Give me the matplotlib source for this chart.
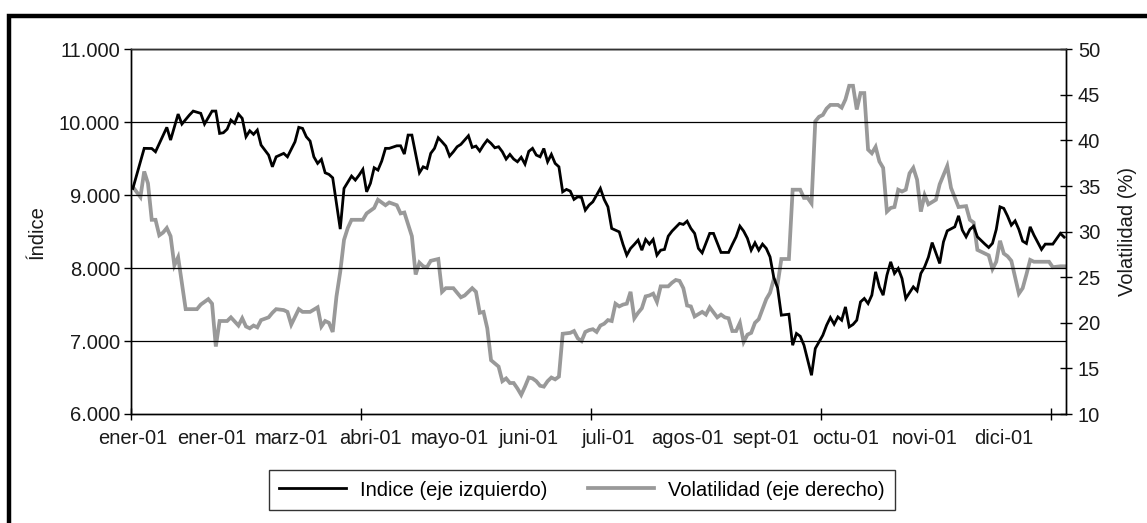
import matplotlib
matplotlib.use("Agg")
import matplotlib.pyplot as plt
from matplotlib.lines import Line2D
from matplotlib.patches import Rectangle

# ---- data (trading-day index) ----
n_dias = 248
indice_dias = [0, 3, 5, 6, 9, 10, 12, 13, 15, 16, 18, 19, 21, 22, 23, 24, 25, 26, 27, 28,
               29, 30, 31, 32, 33, 34, 36, 37, 38, 40, 41, 43, 44, 45, 46, 47, 48, 49, 50, 51,
               52, 53, 54, 55, 56, 58, 59, 60, 61, 62, 63, 64, 65, 66, 67, 68, 70, 71, 72, 73,
               74, 76, 77, 78, 79, 80, 81, 82, 83, 84, 85, 86, 87, 89, 90, 91, 92, 93, 94, 95,
               96, 97, 98, 99, 100, 101, 102, 103, 104, 105, 106, 107, 108, 109, 110, 111, 112,
               113, 114, 115, 116, 117, 118, 119, 120, 121, 122, 124, 125, 126, 127, 129, 130,
               131, 132, 133, 134, 135, 136, 137, 138, 139, 140, 141, 142, 143, 145, 146, 147,
               148, 149, 150, 151, 153, 154, 156, 158, 159, 160, 161, 162, 163, 164, 165, 166,
               167, 168, 169, 170, 171, 172, 174, 175, 176, 177, 178, 179, 180, 181, 182, 183,
               184, 185, 186, 187, 188, 189, 190, 191, 192, 193, 194, 195, 196, 197, 198, 199,
               200, 201, 202, 203, 204, 205, 207, 208, 209, 210, 211, 212, 214, 215, 216, 218,
               219, 220, 221, 222, 223, 224, 226, 227, 228, 229, 230, 231, 232, 233, 234, 235,
               236, 237, 238, 239, 241, 242, 244, 246, 247]
indice_valores = [9093, 9642, 9640, 9595, 9930, 9756, 10112, 9975, 10099, 10153, 10122, 9975,
                  10153, 10153, 9847, 9856, 9905, 10030, 9985, 10112, 10053, 9801, 9883, 9834,
                  9893, 9687, 9550, 9389, 9526, 9573, 9526, 9732, 9930, 9916, 9801, 9742, 9526,
                  9436, 9491, 9307, 9285, 9238, 8887, 8535, 9093, 9262, 9207, 9275, 9354, 9046,
                  9162, 9376, 9344, 9467, 9642, 9642, 9677, 9677, 9564, 9824, 9824, 9307, 9389,
                  9367, 9573, 9642, 9787, 9732, 9673, 9536, 9595, 9664, 9697, 9815, 9655, 9673,
                  9605, 9687, 9756, 9710, 9650, 9664, 9595, 9495, 9559, 9495, 9458, 9520, 9426,
                  9600, 9642, 9550, 9526, 9640, 9458, 9559, 9436, 9389, 9046, 9079, 9056, 8942,
                  8978, 8969, 8795, 8864, 8909, 9093, 8942, 8840, 8544, 8497, 8325, 8178, 8270,
                  8325, 8384, 8246, 8393, 8329, 8393, 8178, 8246, 8256, 8438, 8507, 8613, 8599,
                  8644, 8544, 8476, 8270, 8209, 8476, 8476, 8215, 8215, 8325, 8429, 8576, 8507,
                  8408, 8246, 8347, 8246, 8329, 8270, 8154, 7870, 7730, 7355, 7368, 6943, 7104,
                  7066, 6943, 6737, 6531, 6898, 6988, 7080, 7217, 7323, 7231, 7331, 7286, 7468,
                  7194, 7227, 7286, 7537, 7584, 7515, 7629, 7949, 7743, 7629, 7903, 8086, 7927,
                  7995, 7858, 7584, 7743, 7688, 7927, 8017, 8150, 8350, 8064, 8360, 8511, 8566,
                  8717, 8521, 8429, 8530, 8576, 8429, 8329, 8283, 8340, 8530, 8840, 8819, 8713,
                  8589, 8648, 8530, 8370, 8338, 8566, 8452, 8256, 8329, 8329, 8476, 8425]

vol_dias = [0, 2, 3, 4, 5, 6, 7, 8, 9, 10, 11, 12, 14, 17, 18, 20, 21, 22, 23, 25, 26, 28, 29,
            30, 31, 32, 33, 34, 36, 37, 38, 40, 41, 42, 44, 45, 47, 49, 50, 51, 52, 53, 54, 55,
            56, 57, 58, 61, 62, 64, 65, 67, 68, 70, 71, 72, 74, 75, 76, 77, 78, 79, 81, 82, 83,
            85, 87, 88, 90, 91, 92, 93, 94, 95, 97, 98, 99, 100, 101, 102, 103, 104, 105, 106,
            107, 108, 109, 110, 111, 112, 113, 114, 116, 117, 118, 119, 120, 121, 122, 123, 124,
            125, 126, 127, 128, 129, 130, 131, 132, 133, 134, 135, 136, 137, 138, 139, 140, 142,
            143, 144, 145, 146, 147, 148, 149, 151, 152, 153, 155, 156, 157, 158, 159, 160, 161,
            162, 163, 164, 165, 166, 167, 168, 169, 170, 171, 172, 174, 175, 177, 178, 179, 180,
            181, 182, 183, 184, 185, 187, 188, 189, 190, 191, 192, 193, 194, 195, 196, 197, 198,
            199, 200, 201, 202, 203, 204, 205, 206, 207, 208, 209, 210, 211, 213, 214, 216, 217,
            219, 221, 222, 223, 224, 226, 227, 228, 229, 230, 231, 232, 233, 235, 236, 237, 238,
            239, 243, 244, 246, 247]
vol_valores = [34.9, 33.8, 36.6, 35.3, 31.3, 31.3, 29.6, 29.9, 30.4, 29.5, 26.3, 27.2, 21.5,
               21.5, 22.0, 22.6, 22.1, 17.4, 20.2, 20.2, 20.6, 19.7, 20.5, 19.6, 19.4, 19.7,
               19.5, 20.3, 20.6, 21.1, 21.5, 21.4, 21.2, 19.8, 21.5, 21.2, 21.2, 21.7, 19.6,
               20.2, 20.0, 19.0, 22.9, 25.6, 29.1, 30.4, 31.3, 31.3, 32.0, 32.6, 33.5, 32.9,
               33.2, 32.9, 32.0, 32.1, 29.5, 25.3, 26.6, 26.2, 26.1, 26.8, 27.0, 23.4, 23.8,
               23.8, 22.8, 23.0, 23.8, 23.4, 21.1, 21.2, 19.4, 15.9, 15.2, 13.6, 13.9, 13.4,
               13.4, 12.8, 12.1, 13.0, 14.0, 13.9, 13.6, 13.1, 13.0, 13.6, 14.0, 13.8, 14.1,
               18.8, 18.9, 19.1, 18.3, 18.0, 19.0, 19.2, 19.3, 19.0, 19.7, 19.9, 20.3, 20.2,
               22.1, 21.8, 22.0, 22.1, 23.4, 20.5, 21.1, 21.6, 22.9, 23.0, 23.2, 22.3, 24.0,
               24.0, 24.4, 24.7, 24.6, 23.8, 21.9, 21.8, 20.7, 21.2, 20.9, 21.7, 20.6, 20.9,
               20.6, 20.5, 19.1, 19.1, 20.0, 17.9, 18.7, 18.9, 20.0, 20.4, 21.5, 22.6, 23.3,
               24.8, 24.2, 27.0, 27.0, 34.6, 34.6, 33.7, 33.7, 33.1, 42.1, 42.6, 42.8, 43.5,
               43.9, 43.9, 43.6, 44.5, 46.0, 46.0, 43.4, 45.2, 45.2, 39.0, 38.6, 39.3, 37.7,
               37.0, 32.2, 32.6, 32.7, 34.6, 34.4, 34.6, 36.4, 37.0, 35.7, 32.2, 34.0, 33.0,
               33.5, 35.2, 37.2, 34.8, 32.7, 32.8, 31.3, 31.0, 28.0, 27.6, 27.4, 25.9, 26.7,
               29.0, 27.6, 27.3, 26.8, 23.2, 23.8, 25.3, 26.9, 26.7, 26.7, 26.1, 26.2, 26.2]

etiquetas_x = ['ener-01', 'ener-01', 'marz-01', 'abri-01', 'mayo-01', 'juni-01',
               'juli-01', 'agos-01', 'sept-01', 'octu-01', 'novi-01', 'dici-01']
etiqueta_intervalo = 21
marca_intervalo = 61
ticks_izq = [6000, 7000, 8000, 9000, 10000, 11000]
etiquetas_izq = ['6.000', '7.000', '8.000', '9.000', '10.000', '11.000']
ticks_der = [10, 15, 20, 25, 30, 35, 40, 45, 50]

# ---- figure ----
plt.rcParams['font.family'] = ['Liberation Sans', 'DejaVu Sans']
FS = 14.5
TXT = '#1a1a1a'
fig = plt.figure(figsize=(11.47, 5.23), dpi=100)
fig.patch.set_facecolor('white')

# outer thick frame (only left/top edges fall inside the picture)
fig.patches.append(Rectangle((8.5 / 1147, -0.2), 1.5, 1.2 - 15.5 / 523,
                             transform=fig.transFigure, fill=False,
                             edgecolor='black', linewidth=3.2, zorder=0))

ax = fig.add_axes([131 / 1147, 1 - 414 / 523, (1066 - 131) / 1147, (414 - 49.3) / 523])
ax2 = ax.twinx()

ax.plot(indice_dias, indice_valores, color='black', lw=2.0, zorder=3,
        solid_joinstyle='miter')
ax2.plot(vol_dias, vol_valores, color='#999999', lw=2.7, zorder=2,
         solid_joinstyle='miter')
ax.set_zorder(ax2.get_zorder() + 1)
ax.patch.set_visible(False)

ax.set_xlim(-0.5, n_dias - 0.5)
ax.set_ylim(6000, 11000)
ax2.set_ylim(10, 50)

ax.set_yticks(ticks_izq)
ax.set_yticklabels(etiquetas_izq, fontsize=FS, color=TXT)
ax.tick_params(axis='y', direction='out', length=5, width=1, pad=3)
for v in ticks_izq[1:]:
    ax.axhline(v, color='black', lw=0.9, zorder=1)

ax2.set_yticks(ticks_der)
ax2.set_yticklabels([str(t) for t in ticks_der], fontsize=FS, color=TXT)
ax2.tick_params(axis='y', direction='inout', length=9, width=1, pad=4)

marcas = [-0.5 + marca_intervalo * k for k in range(5)]
pos_etq = [etiqueta_intervalo * k for k in range(len(etiquetas_x))]
ax.set_xticks(marcas)
ax.set_xticklabels([''] * len(marcas))
ax.tick_params(axis='x', which='major', direction='inout', length=9, width=1)
ax.set_xticks(pos_etq, minor=True)
ax.set_xticklabels(etiquetas_x, minor=True, fontsize=FS, color=TXT)
ax.tick_params(axis='x', which='minor', length=0, pad=11)
ax2.tick_params(axis='x', length=0)

for a in (ax, ax2):
    for s in a.spines.values():
        s.set_linewidth(1.0)
        s.set_color('black')
ax.spines['top'].set_color('#333333')

ax.set_ylabel('Índice', fontsize=FS, color=TXT)
ax2.set_ylabel('Volatilidad (%)', fontsize=FS, color=TXT)
ax.yaxis.set_label_coords(-0.09, 0.5)
ax2.yaxis.set_label_coords(1.056, 0.5)

handles = [Line2D([], [], color='black', lw=2.0),
           Line2D([], [], color='#999999', lw=2.7)]
leg = fig.legend(handles, ['Indice (eje izquierdo)', 'Volatilidad (eje derecho)'],
                 loc='center', bbox_to_anchor=(582 / 1147, 1 - 490 / 523), ncol=2,
                 fontsize=FS, frameon=True, fancybox=False, edgecolor='black',
                 handlelength=3.3, handletextpad=0.7, columnspacing=2.0,
                 borderpad=0.5)
leg.get_frame().set_linewidth(1.0)

fig.savefig('out.png', dpi=100, facecolor='white')
